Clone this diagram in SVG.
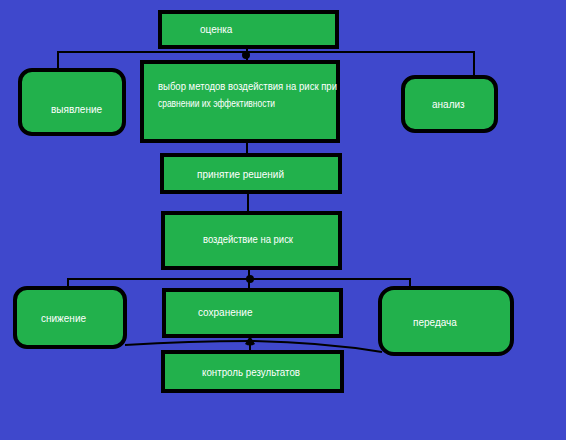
<svg xmlns="http://www.w3.org/2000/svg" width="566" height="440" viewBox="0 0 566 440">
<style>
.b{fill:#22b14c;stroke:#000;stroke-width:4}
.t{font-family:"Liberation Sans",Arial,sans-serif;font-size:10px;fill:#fff}
.c{fill:none;stroke:#000;stroke-width:2}
</style>
<rect width="566" height="440" fill="#3f48cc"/>
<g id="connectors">
<polyline class="c" points="58,70 58,52 474,52 474,78"/>
<line class="c" x1="247" y1="47" x2="247" y2="62"/>
<line class="c" x1="247" y1="141" x2="247" y2="155"/>
<line class="c" x1="248" y1="192" x2="248" y2="213"/>
<line class="c" x1="249" y1="268" x2="249" y2="290"/>
<polyline class="c" points="68,290 68,279 410,279 410,290"/>
<path class="c" d="M125,345 Q190,341 250,341 Q320,342 382,352"/>
<line class="c" x1="250" y1="336" x2="250" y2="352"/>
<circle cx="246" cy="55" r="4"/>
<circle cx="250" cy="279" r="4"/>
<path d="M250,336 L245,344 Q250,347 255,344 Z"/>
</g>
<g id="n-ocenka"><rect class="b" x="160" y="12" width="177" height="35"/><text class="t" x="200" y="33">оценка</text></g>
<g id="n-vyyavlenie"><rect class="b" x="20" y="70" width="104" height="64" rx="12"/><text class="t" x="51" y="113">выявление</text></g>
<g id="n-vybor"><rect class="b" x="142" y="62" width="196" height="79"/><text class="t" x="158" y="90" textLength="179" lengthAdjust="spacingAndGlyphs">выбор методов воздействия на риск при</text><text class="t" x="158" y="107" textLength="117" lengthAdjust="spacingAndGlyphs">сравнении их эффективности</text></g>
<g id="n-analiz"><rect class="b" x="403" y="77" width="93" height="54" rx="12"/><text class="t" x="432" y="108">анализ</text></g>
<g id="n-prinyatie"><rect class="b" x="162" y="155" width="178" height="37"/><text class="t" x="197" y="178" textLength="87" lengthAdjust="spacingAndGlyphs">принятие решений</text></g>
<g id="n-vozdeystvie"><rect class="b" x="163" y="213" width="177" height="55"/><text class="t" x="203" y="243" textLength="90" lengthAdjust="spacingAndGlyphs">воздействие на риск</text></g>
<g id="n-snizhenie"><rect class="b" x="15" y="288" width="110" height="59" rx="12"/><text class="t" x="41" y="322">снижение</text></g>
<g id="n-sohranenie"><rect class="b" x="164" y="290" width="177" height="46"/><text class="t" x="198" y="316">сохранение</text></g>
<g id="n-peredacha"><rect class="b" x="380" y="288" width="132" height="66" rx="14"/><text class="t" x="413" y="326">передача</text></g>
<g id="n-kontrol"><rect class="b" x="163" y="352" width="179" height="39"/><text class="t" x="202" y="376" textLength="98" lengthAdjust="spacingAndGlyphs">контроль результатов</text></g>
</svg>
